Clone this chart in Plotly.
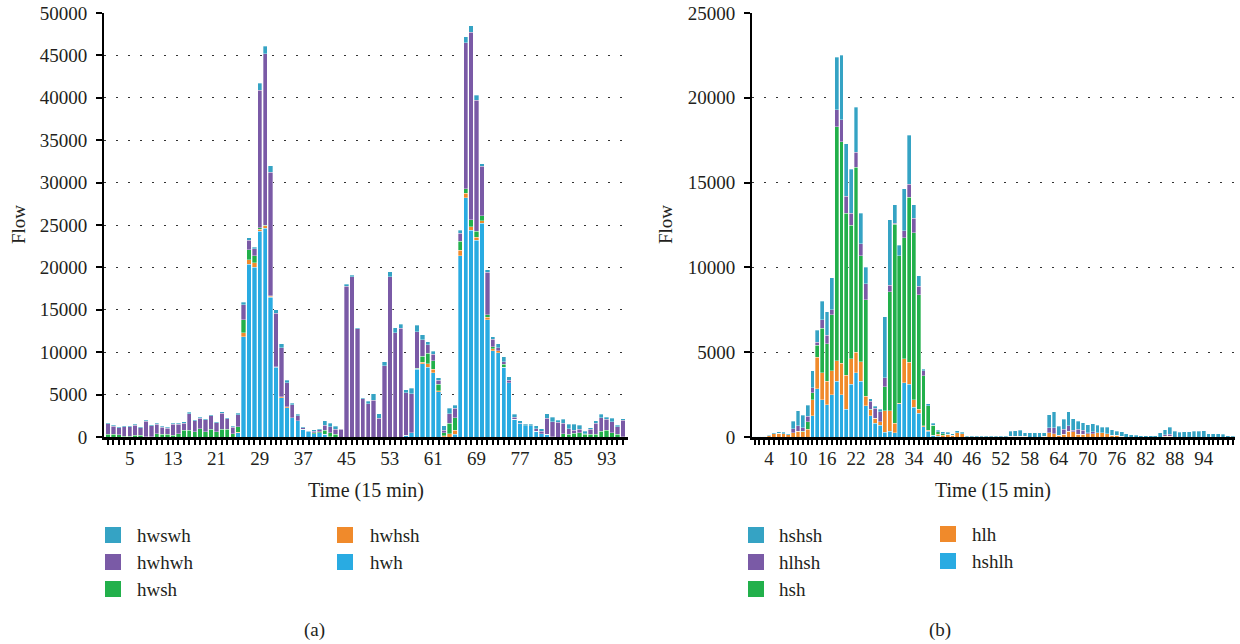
import plotly.graph_objects as go

# ---------------- data: panel (a) ----------------
time_a = list(range(1, 97))
hwh = [0]*24 + [500, 11850, 20400, 20000, 24250, 24600, 16500, 8200, 4650, 3450, 2300, 1900, 900, 600, 400, 500, 300, 50] \
      + [0]*13 + [200, 500, 8000, 8650, 8200, 7600, 5350, 50, 0, 300, 21400, 28200, 24400, 23200, 25200, 13800, 10150,
                  9950, 8200, 6400, 2100, 1550, 1300, 1300, 700, 400, 300, 50] + [0]*13
hwhsh = [0]*24 + [50, 450, 500, 550, 250, 300, 100, 100, 100, 100] + [0]*23 \
        + [50, 150, 450, 400, 100, 100, 400, 500, 650, 550, 400, 350, 300, 300, 250, 200, 50] + [0]*22
hwsh = [300, 300, 250, 100, 100, 200, 200, 50, 50, 400, 300, 350, 200, 400, 800, 800, 600, 1000, 600, 900, 600, 900, 900,
        400, 650, 1500, 1200, 850, 200, 100, 50, 0, 0, 0, 0, 0, 0, 0, 100, 100, 500, 450, 300] + [0]*14 \
       + [50, 750, 1200, 1000, 750, 350, 1200, 1500, 1050, 500, 800, 700, 600, 300, 250, 50, 350] + [0]*10 \
       + [400, 300, 450, 500, 300, 300, 300, 700, 800, 500, 300, 50]
hwhwh = [1250, 980, 850, 1100, 1100, 1180, 900, 1830, 1300, 1080, 850, 680, 1280, 1080, 850, 1950, 1330, 1230, 1430, 1630,
         1080, 1900, 1280, 730, 1450, 1800, 1100, 800, 16200, 20200, 14550, 6300, 5800, 2850, 1500, 600, 200, 0, 200, 250,
         600, 700, 600, 900, 17800, 18900, 12750, 4500, 3900, 4350, 2200, 8400, 18900, 12300, 12800, 5000, 4600, 4300,
         1900, 1000, 750, 500, 300, 1150, 1100, 900, 17250, 22150, 15450, 5800, 5000, 850, 300, 250, 300, 250, 100, 0, 0,
         300, 300, 1900, 1750, 1750, 1250, 700, 350, 400, 100, 600, 1300, 1600, 1300, 1300, 900, 1950]
hwswh = [150, 120, 100, 100, 100, 120, 100, 120, 100, 120, 100, 120, 120, 120, 150, 150, 120, 120, 120, 120, 120, 150, 120,
         120, 150, 300, 300, 200, 800, 900, 800, 400, 450, 300, 200, 200, 100, 100, 150, 150, 500, 400, 350, 100, 200, 200,
         150, 150, 300, 750, 550, 500, 600, 600, 500, 350, 650, 800, 600, 400, 350, 300, 500, 650, 350, 400, 700, 750, 600,
         300, 300, 300, 500, 600, 400, 350, 250, 200, 200, 300, 300, 550, 550, 250, 450, 500, 700, 500, 300, 200, 300, 400,
         250, 400, 200, 150]
ticks_a = list(range(5, 97, 8))

# ---------------- data: panel (b) ----------------
time_b = list(range(1, 101))
hshlh = [30, 30, 30] + [0]*9 + [1250, 2850, 2200, 1900, 2500, 3300, 2500, 1650, 3100, 3800, 3300, 1850, 1250, 800, 700,
                                270, 330, 250, 1950, 3200, 3100, 1750, 1400, 600, 350, 100, 50] + [0]*61
hlh = [0, 0, 0, 70, 180, 220, 200, 140, 250, 350, 300, 450, 950, 1850, 1600, 1400, 1400, 1200, 1850, 2000, 1500, 1200,
       1150, 550, 350, 300, 200, 1280, 1220, 550, 50, 1400, 1300, 450, 250, 50, 50, 0, 100, 100, 120, 100, 250, 180] \
      + [0]*9 + [50, 50, 50, 30, 0, 0, 0, 40, 250, 200, 100, 150, 350, 300, 150, 150, 200, 200, 250, 250, 200, 100, 100,
                 50] + [0]*8 + [50, 50] + [0]*13
hsh = [0]*10 + [50, 450, 400, 700, 2600, 2200, 3300, 13800, 13050, 9550, 7900, 10900, 6250, 5700, 50, 0, 0, 1400, 7000,
                11750, 8700, 7150, 9750, 9850, 6750, 2950, 1450, 600, 150, 100, 50] + [0]*59
hlhsh = [0]*8 + [250, 300, 200, 330, 300, 200, 500, 500, 300, 1000, 1300, 1000, 700, 900, 700, 950, 450, 600, 600, 550,
                 400, 50, 0, 400, 750, 850, 500, 300] + [0]*25 \
        + [300, 350, 0, 300, 300, 100, 300, 250, 50, 100] + [0]*14 + [80, 100] + [0]*13
hshsh = [30, 30, 30, 30, 70, 80, 80, 60, 420, 900, 720, 630, 1000, 700, 1100, 1400, 1900, 3100, 3800, 3100, 2600, 2650,
         1800, 950, 150, 100, 150, 3600, 3850, 1100, 600, 2500, 2900, 800, 600, 100, 100, 100, 100, 100, 100, 100, 120,
         100, 50, 40, 40, 40, 40, 40, 40, 40, 40, 280, 320, 350, 230, 240, 240, 240, 220, 750, 930, 530, 610, 850, 680,
         480, 430, 480, 470, 440, 320, 370, 330, 230, 250, 200, 120, 100, 80, 80, 80, 80, 240, 300, 420, 330, 280, 310,
         310, 350, 330, 370, 180, 180, 180, 160, 80, 30]
ticks_b = list(range(4, 101, 6))

# ---------------- styling ----------------
W, H = 1240, 644
FONT = "Liberation Serif"
TXT = "#231f20"
C_TEAL = "#35a3c4"
C_PURPLE = "#7a5aa6"
C_GREEN = "#22b04b"
C_ORANGE = "#f08a2b"
C_BLUE = "#29abe2"

def px(x):
    return x / W

def py(y):
    return 1 - y / H

fig = go.Figure()

series_a = [("hwh", hwh, C_BLUE), ("hwhsh", hwhsh, C_ORANGE), ("hwsh", hwsh, C_GREEN),
            ("hwhwh", hwhwh, C_PURPLE), ("hwswh", hwswh, C_TEAL)]
series_b = [("hshlh", hshlh, C_BLUE), ("hlh", hlh, C_ORANGE), ("hsh", hsh, C_GREEN),
            ("hlhsh", hlhsh, C_PURPLE), ("hshsh", hshsh, C_TEAL)]

for name, vals, col in series_a:
    fig.add_trace(go.Bar(x=time_a, y=vals, name=name, marker_color=col,
                         marker_line=dict(color="rgba(255,255,255,0.55)", width=0.6),
                         xaxis="x", yaxis="y", showlegend=False))
for name, vals, col in series_b:
    fig.add_trace(go.Bar(x=time_b, y=vals, name=name, marker_color=col,
                         marker_line=dict(color="rgba(255,255,255,0.55)", width=0.6),
                         xaxis="x2", yaxis="y2", showlegend=False))

ydom = [py(437), py(13)]
common_x = dict(showline=True, linecolor="black", linewidth=3, ticks="outside", ticklen=5, tickwidth=2,
                tickcolor="black", showgrid=False, zeroline=False, ticklabelstandoff=-3, automargin=False,
                tickfont=dict(family=FONT, size=19, color=TXT),
                minor=dict(tickmode="linear", tick0=1, dtick=1, ticks="outside", ticklen=5, tickwidth=2,
                           tickcolor="black", showgrid=False))
common_y = dict(showline=True, linecolor="black", linewidth=2, ticks="outside", ticklen=6, tickwidth=2,
                tickcolor="black", showgrid=True, gridcolor="#333333", gridwidth=1, griddash="2px,10px",
                zeroline=False, tickformat="d", ticklabelstandoff=5, automargin=False,
                tickfont=dict(family=FONT, size=19, color=TXT), domain=ydom)

fig.update_layout(
    width=W, height=H, barmode="stack", bargap=0.2,
    margin=dict(l=0, r=0, t=0, b=0, autoexpand=False),
    paper_bgcolor="white", plot_bgcolor="white",
    font=dict(family=FONT, color=TXT),
    xaxis=dict(domain=[px(104), px(628)], range=[0.26, 96.94], tickmode="array", tickvals=ticks_a,
               anchor="y", **common_x),
    yaxis=dict(range=[0, 50000], dtick=5000, anchor="x", **common_y),
    xaxis2=dict(domain=[px(752), px(1235)], range=[0.48, 100.48], tickmode="array", tickvals=ticks_b,
                anchor="y2", **common_x),
    yaxis2=dict(range=[0, 25000], dtick=5000, anchor="x2", **common_y),
)

ann = []
shapes = []
# axis titles
ann.append(dict(x=px(366), y=py(490), text="Time (15 min)", showarrow=False, xref="paper", yref="paper",
                font=dict(family=FONT, size=20, color=TXT), xanchor="center", yanchor="middle"))
ann.append(dict(x=px(993), y=py(490), text="Time (15 min)", showarrow=False, xref="paper", yref="paper",
                font=dict(family=FONT, size=20, color=TXT), xanchor="center", yanchor="middle"))
ann.append(dict(x=px(19), y=py(225), text="Flow", showarrow=False, xref="paper", yref="paper", textangle=-90,
                font=dict(family=FONT, size=19, color=TXT), xanchor="center", yanchor="middle"))
ann.append(dict(x=px(666), y=py(225), text="Flow", showarrow=False, xref="paper", yref="paper", textangle=-90,
                font=dict(family=FONT, size=19, color=TXT), xanchor="center", yanchor="middle"))
# captions
ann.append(dict(x=px(314), y=py(630), text="(a)", showarrow=False, xref="paper", yref="paper",
                font=dict(family=FONT, size=19, color=TXT), xanchor="center", yanchor="middle"))
ann.append(dict(x=px(940), y=py(630), text="(b)", showarrow=False, xref="paper", yref="paper",
                font=dict(family=FONT, size=19, color=TXT), xanchor="center", yanchor="middle"))

# legends (two columns each)
rows_y = [535, 562, 589]
leg_a = [(105, 135, rows_y[0], "hwswh", C_TEAL), (105, 135, rows_y[1], "hwhwh", C_PURPLE),
         (105, 135, rows_y[2], "hwsh", C_GREEN), (337, 368, rows_y[0], "hwhsh", C_ORANGE),
         (337, 368, rows_y[1], "hwh", C_BLUE)]
leg_b = [(748, 777, rows_y[0], "hshsh", C_TEAL), (748, 777, rows_y[1], "hlhsh", C_PURPLE),
         (748, 777, rows_y[2], "hsh", C_GREEN), (940, 970, rows_y[0] - 1, "hlh", C_ORANGE),
         (940, 970, rows_y[1] - 1, "hshlh", C_BLUE)]
for sx, tx, cy, label, col in leg_a + leg_b:
    shapes.append(dict(type="rect", xref="paper", yref="paper", x0=px(sx), x1=px(sx + 16),
                       y0=py(cy + 8), y1=py(cy - 8), fillcolor=col, line=dict(width=0)))
    ann.append(dict(x=px(tx), y=py(cy), text=label, showarrow=False, xref="paper", yref="paper",
                    font=dict(family=FONT, size=19, color=TXT), xanchor="left", yanchor="middle"))

fig.update_layout(annotations=ann, shapes=shapes)

pin_page = (
    "var h=document.documentElement,b=document.body;"
    "h.style.margin='0';h.style.padding='0';h.style.overflow='hidden';"
    "b.style.margin='0';b.style.padding='0';b.style.overflow='hidden';"
    "var d=document.getElementById('{plot_id}');"
    "d.style.position='fixed';d.style.top='0px';d.style.left='0px';"
)
fig.write_html("out.html", config={"displayModeBar": False}, post_script=pin_page)
